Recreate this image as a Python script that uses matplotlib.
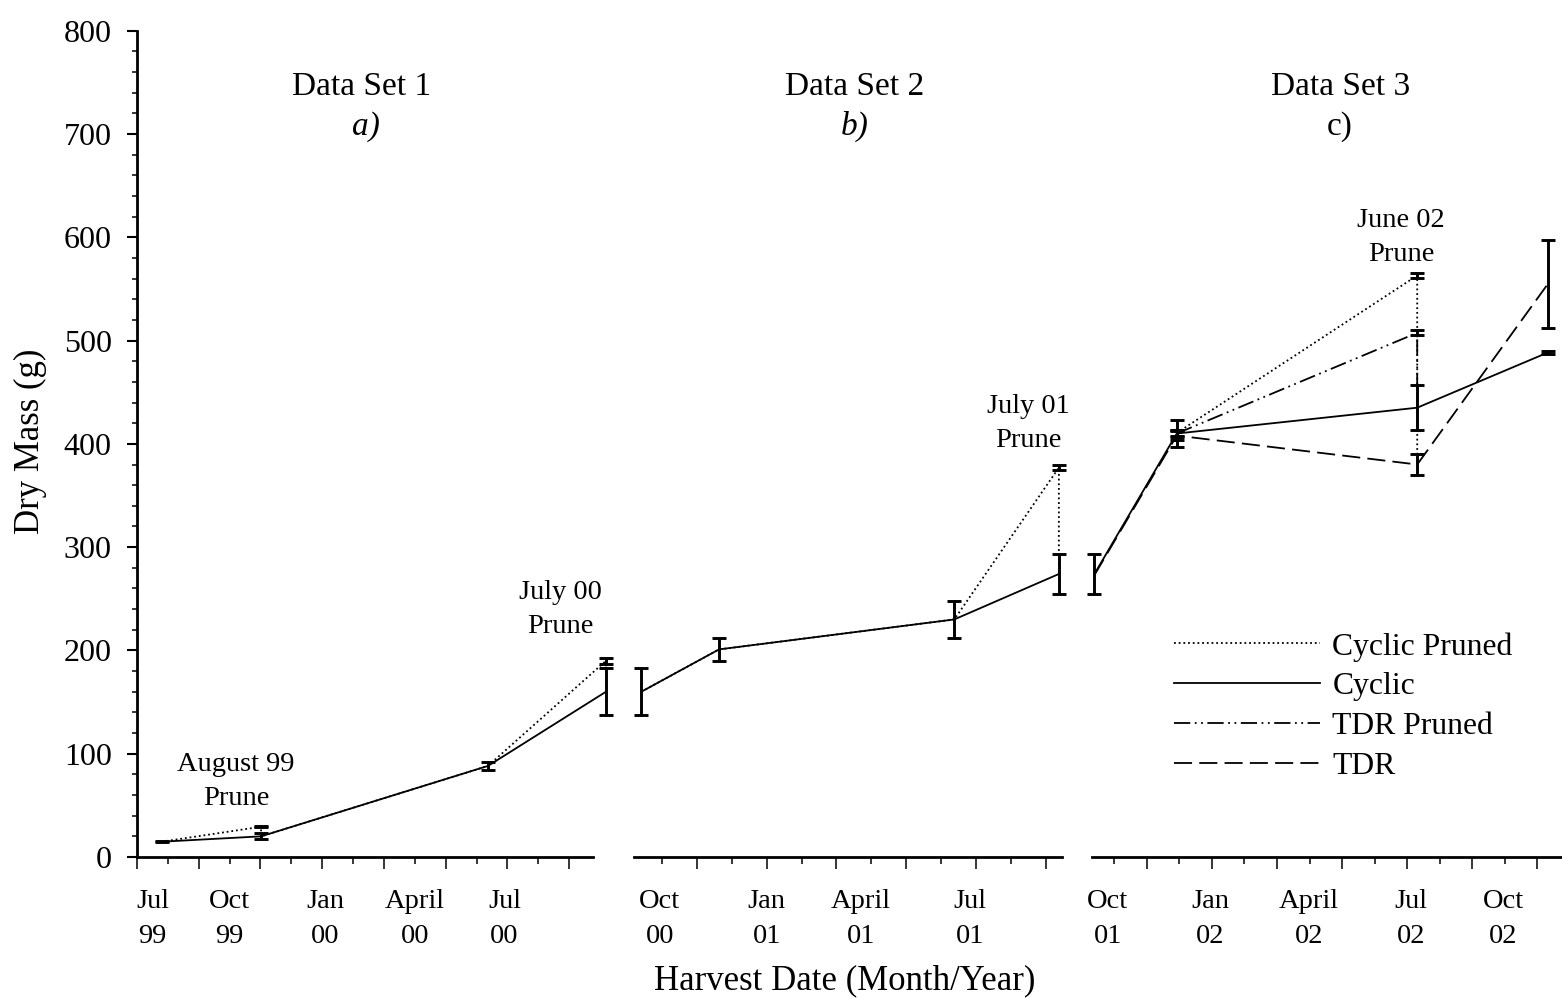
import numpy as np
import matplotlib
matplotlib.use('Agg')
import matplotlib.pyplot as plt
from matplotlib.lines import Line2D
from matplotlib.ticker import MultipleLocator, NullLocator

plt.rcParams['font.family'] = ['Liberation Serif', 'DejaVu Serif']

# ---------------- data (x in months from each panel's first tick) ----------------
# Panel a) Data Set 1  (ticks: Jul 99 = 0 ... Sep 00 = 14)
p1_x = [0.8, 4.02, 11.37, 15.19]
p1_cyclic = [14.8, 20.0, 88.2, 160.0]
p1_cyclic_err = [0.6, 3.0, 4.0, 23.0]
p1_pruned_x = [0.8, 4.02, 4.02, 11.37, 15.19, 15.19]
p1_pruned = [14.8, 29.3, 20.0, 88.2, 190.0, 160.0]
p1_pruned_bar_x = [4.02, 15.19]
p1_pruned_bar = [29.3, 190.0]
p1_pruned_bar_err = [0.6, 3.0]

# Panel b) Data Set 2  (ticks: Oct 00 = 0 ... Sep 01 = 11)
p2_x = [-0.6, 1.63, 8.38, 11.38]
p2_cyclic = [160.0, 201.0, 230.0, 274.0]
p2_cyclic_err = [23.0, 11.0, 17.7, 19.5]
p2_pruned_x = [-0.6, 1.63, 8.38, 11.38, 11.38]
p2_pruned = [160.0, 201.0, 230.0, 377.0, 274.0]
p2_pruned_bar_x = [11.38]
p2_pruned_bar = [377.0]
p2_pruned_bar_err = [2.5]

# Panel c) Data Set 3  (ticks: Oct 01 = 0 ... Nov 02 = 13)
p3_x = [-0.61, 1.92, 9.31, 13.33]
p3_cyclic = [274.0, 410.0, 435.0, 488.5]
p3_cyclic_err = [19.5, 13.0, 21.5, 1.5]
p3_tdr = [273.0, 408.0, 380.0, 555.0]
p3_tdr_err = [19.5, 4.5, 10.5, 42.6]
p3_cpruned_x = [1.92, 9.31, 9.31]
p3_cpruned = [410.5, 563.0, 380.0]
p3_cpruned_bar_x = [1.92, 9.31]
p3_cpruned_bar = [410.5, 563.0]
p3_cpruned_bar_err = [2.5, 2.3]
p3_tpruned_x = [1.92, 9.31, 9.31]
p3_tpruned = [410.0, 507.5, 435.0]
p3_tpruned_bar_x = [1.92, 9.31]
p3_tpruned_bar = [410.0, 507.5]
p3_tpruned_bar_err = [3.0, 2.5]

# tick labels
p1_lab_pos = [0.5, 3, 6.1, 9, 11.9]
p1_labels = ['Jul\n99', 'Oct\n99', 'Jan\n00', 'April\n00', 'Jul\n00']
p2_lab_pos = [-0.07, 3.0, 5.7, 8.83]
p2_labels = ['Oct\n00', 'Jan\n01', 'April\n01', 'Jul\n01']
p3_lab_pos = [-0.2, 2.95, 5.99, 9.12, 11.95]
p3_labels = ['Oct\n01', 'Jan\n02', 'April\n02', 'Jul\n02', 'Oct\n02']

legend_labels = ['Cyclic Pruned', 'Cyclic', 'TDR Pruned', 'TDR']

# ---------------- figure ----------------
W, H = 1562, 998
fig = plt.figure(figsize=(W / 100, H / 100), dpi=100)


def fx(px):
    return px / W


def fy(py):
    return 1 - py / H


top_px, bot_px = 30.7, 857.0
panels_px = [(137, 593), (634, 1062), (1092, 1562)]
xlims = [(0, 14.77), (-0.81, 11.47), (-0.685, 13.76)]
n_ticks = [15, 12, 14]
long_parity = [0, 1, 1]

axes = []
for i, ((l, r), xl) in enumerate(zip(panels_px, xlims)):
    ax = fig.add_axes([fx(l), fy(bot_px), (r - l) / W, (bot_px - top_px) / H])
    ax.set_xlim(*xl)
    ax.set_ylim(0, 800)
    ax.patch.set_alpha(0)
    for s in ['top', 'right']:
        ax.spines[s].set_visible(False)
    ax.spines['bottom'].set_linewidth(2.0)
    ks = np.arange(n_ticks[i])
    ax.set_xticks(ks[ks % 2 == long_parity[i]])
    ax.set_xticks(ks[ks % 2 != long_parity[i]], minor=True)
    ax.tick_params(axis='x', which='major', length=8.6, width=1.1, direction='out',
                   labelbottom=False)
    ax.tick_params(axis='x', which='minor', length=5.0, width=1.1, direction='out',
                   labelbottom=False)
    if i == 0:
        ax.spines['left'].set_linewidth(2.0)
        ax.set_yticks(range(0, 801, 100))
        ax.yaxis.set_minor_locator(MultipleLocator(20))
        ax.tick_params(axis='y', which='major', length=7.2, width=1.5, direction='out',
                       labelsize=23, pad=11)
        ax.tick_params(axis='y', which='minor', length=3.3, width=1.1, direction='out')
    else:
        ax.spines['left'].set_visible(False)
        ax.tick_params(axis='y', which='both', left=False, labelleft=False)
    axes.append(ax)

ax1, ax2, ax3 = axes

for ax, pos, labs in zip(axes, [p1_lab_pos, p2_lab_pos, p3_lab_pos],
                         [p1_labels, p2_labels, p3_labels]):
    sec = ax.secondary_xaxis('bottom')
    sec.set_xticks(pos, labels=labs)
    sec.xaxis.set_minor_locator(NullLocator())
    sec.tick_params(axis='x', length=0, pad=23, labelsize=20.5)
    sec.spines['bottom'].set_visible(False)
    for t in sec.get_xticklabels():
        t.set_linespacing(1.55)

# line styles
cyc_style = dict(color='black', lw=1.3, ls='-')
cpr_style = dict(color='black', lw=1.3, ls=(0, (1, 1.6)))
tpr_style = dict(color='black', lw=1.3, ls=(0, (9, 2.5, 1, 2.5, 1, 2.5)))
tdr_style = dict(color='black', lw=1.3, ls=(0, (10, 4)))
eb_style = dict(fmt='none', ecolor='black', elinewidth=2.1, capsize=4.7, capthick=2.1,
                clip_on=False, zorder=3)


def errbars(ax, x, y, e):
    c = ax.errorbar(x, y, yerr=e, **eb_style)
    for art in c.get_children():
        art.set_clip_on(False)


# Panel 1
ax1.plot(p1_pruned_x, p1_pruned, clip_on=False, **cpr_style)
ax1.plot(p1_x, p1_cyclic, clip_on=False, **cyc_style)
errbars(ax1, p1_x, p1_cyclic, p1_cyclic_err)
errbars(ax1, p1_pruned_bar_x, p1_pruned_bar, p1_pruned_bar_err)

# Panel 2
ax2.plot(p2_pruned_x, p2_pruned, clip_on=False, **cpr_style)
ax2.plot(p2_x, p2_cyclic, clip_on=False, **cyc_style)
errbars(ax2, p2_x, p2_cyclic, p2_cyclic_err)
errbars(ax2, p2_pruned_bar_x, p2_pruned_bar, p2_pruned_bar_err)

# Panel 3
ax3.plot(p3_cpruned_x, p3_cpruned, clip_on=False, **cpr_style)
ax3.plot(p3_tpruned_x, p3_tpruned, clip_on=False, **tpr_style)
ax3.plot(p3_x, p3_cyclic, clip_on=False, **cyc_style)
ax3.plot(p3_x, p3_tdr, clip_on=False, **tdr_style)
errbars(ax3, p3_x, p3_cyclic, p3_cyclic_err)
errbars(ax3, p3_x[1:], p3_tdr[1:], p3_tdr_err[1:])
errbars(ax3, p3_cpruned_bar_x, p3_cpruned_bar, p3_cpruned_bar_err)
errbars(ax3, p3_tpruned_bar_x, p3_tpruned_bar, p3_tpruned_bar_err)

# legend
handles = [Line2D([], [], **cpr_style), Line2D([], [], **cyc_style),
           Line2D([], [], **tpr_style), Line2D([], [], **tdr_style)]
ax3.legend(handles, legend_labels, loc='upper left',
           bbox_to_anchor=(fx(1174), fy(632)), bbox_transform=fig.transFigure,
           frameon=False, fontsize=22.8, handlelength=4.6, handletextpad=0.4,
           labelspacing=0.34, borderpad=0, borderaxespad=0)

# titles
titles = [('Data Set 1', 362, 'a)', 366, 'italic'),
          ('Data Set 2', 855, 'b)', 855, 'italic'),
          ('Data Set 3', 1340.5, 'c)', 1340, 'normal')]
for t, x, sub, xs, st in titles:
    fig.text(fx(x), fy(95), t, ha='center', va='baseline', fontsize=24)
    fig.text(fx(xs), fy(135), sub, ha='center', va='baseline', fontsize=24, style=st)

# prune annotations (y = baseline of the last line)
notes = [('August 99\nPrune', 236, 805), ('July 00\nPrune', 560, 633),
         ('July 01\nPrune', 1028, 447), ('June 02\nPrune', 1401, 261)]
for t, x, y in notes:
    fig.text(fx(x), fy(y), t, ha='center', va='baseline', fontsize=20.5,
             multialignment='center', linespacing=1.45)

# axis labels
ax1.set_ylabel('Dry Mass (g)', fontsize=25)
ax1.yaxis.set_label_coords(-0.198, 0.5034)
fig.text(fx(845), fy(981), 'Harvest Date (Month/Year)', ha='center', va='center',
         fontsize=25)

fig.savefig('out.png', dpi=100)
